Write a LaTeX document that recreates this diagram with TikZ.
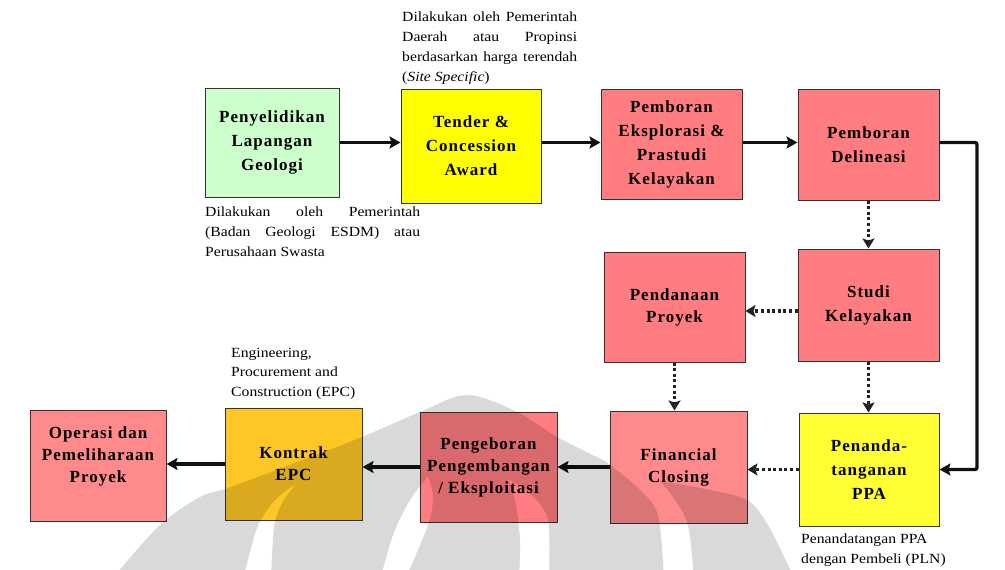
\documentclass[tikz,border=0pt]{standalone}
\usepackage{fontspec}
\setmainfont{Liberation Serif}
\newfontfamily\boxfont[LetterSpace=6]{Liberation Serif}
\newfontfamily\notefont[FakeStretch=1.12]{Liberation Serif}
\usetikzlibrary{arrows.meta}

\definecolor{geogreen}{HTML}{CCFFCC}
\definecolor{tenderyellow}{HTML}{FFFF00}
\definecolor{ppayellow}{HTML}{FFFF33}
\definecolor{salmon}{HTML}{FF7C80}
\definecolor{salmonlight}{HTML}{FF8A8C}
\definecolor{epcgold}{HTML}{FFC726}
\definecolor{edgecol}{HTML}{333333}
\definecolor{linkcol}{HTML}{111111}
\definecolor{dotcol}{HTML}{222222}

\tikzset{
  stagebox/.style={draw=edgecol, line width=1pt, inner sep=2pt, align=center,
    font=\boxfont\bfseries\fontsize{17}{24}\selectfont},
  lowbox/.style={stagebox, font=\boxfont\bfseries\fontsize{17}{22}\selectfont},
  note/.style={inner sep=0pt, anchor=north west, font=\notefont\fontsize{14}{20}\selectfont},
  flow/.style={draw=linkcol, line width=3.3pt, -{Stealth[length=11pt,width=12pt,inset=2pt]}},
  dotflow/.style={draw=dotcol, line width=3.5pt, dash pattern=on 3pt off 2.6pt,
    -{Stealth[length=10pt,width=12pt,inset=2pt]}}
}

\begin{document}
\begin{tikzpicture}[x=1pt,y=-1pt]
\useasboundingbox (0,0) rectangle (1005,570);
\fill[white] (0,0) rectangle (1005,570);

% upper row
\node[stagebox, fill=geogreen, minimum width=134pt, minimum height=109pt] (geo) at (272,142.5)
  {Penyelidikan\\Lapangan\\Geologi};
\node[stagebox, fill=tenderyellow, minimum width=140pt, minimum height=114pt] (tender) at (471,146)
  {Tender \&\\Concession\\Award};
\node[stagebox, fill=salmon, minimum width=141pt, minimum height=110pt] (eksplor) at (671.5,144)
  {Pemboran\\Eksplorasi \&\\Prastudi\\Kelayakan};
\node[stagebox, fill=salmon, minimum width=141pt, minimum height=111pt] (delin) at (868.5,144.5)
  {Pemboran\\Delineasi};

% middle row
\node[stagebox, fill=salmon, minimum width=141pt, minimum height=112pt] (studi) at (868.5,305)
  {Studi\\Kelayakan};
\node[lowbox, fill=salmon, minimum width=141pt, minimum height=110pt] (dana) at (674.5,307)
  {Pendanaan\\Proyek};

% lower row
\node[stagebox, fill=ppayellow, minimum width=140pt, minimum height=113pt] (ppa) at (869,469.5)
  {Penanda-\\tanganan\\PPA};
\node[lowbox, fill=salmonlight, minimum width=137pt, minimum height=112pt] (fin) at (678.5,467)
  {Financial\\Closing};
\node[lowbox, fill=salmon, minimum width=137pt, minimum height=110pt] (pengeb) at (488.5,467)
  {Pengeboran\\Pengembangan\\/ Eksploitasi};
\node[lowbox, fill=epcgold, minimum width=137pt, minimum height=112pt] (epc) at (293.5,464)
  {Kontrak\\EPC};
\node[lowbox, fill=salmonlight, minimum width=136pt, minimum height=111pt] (ops) at (98,465.5)
  {Operasi dan\\Pemeliharaan\\Proyek\\\mbox{}};

% annotations
\node[note, text width=175pt, align=justify] (noteTender) at (402,12)
  {\noindent Dilakukan oleh Pemerintah\linebreak Daerah atau Propinsi\linebreak berdasarkan harga terendah\linebreak (\textit{Site Specific})};
\node[note, text width=215pt, align=justify] (noteGeo) at (205,207)
  {\noindent Dilakukan oleh Pemerintah\linebreak (Badan Geologi ESDM) atau\linebreak Perusahaan Swasta};
\node[note, align=left, font=\notefont\fontsize{14}{19.5}\selectfont] (noteEpc) at (231,348)
  {Engineering,\\Procurement and\\Construction (EPC)};
\node[note, align=left] (notePpa) at (801,534)
  {Penandatangan PPA\\dengan Pembeli (PLN)};

% solid process flow
\coordinate (bend) at (977,142.5);
\draw[flow] (geo.east) -- (geo.east -| tender.west);
\draw[flow] (geo.east -| tender.east) -- (geo.east -| eksplor.west);
\draw[flow] (geo.east -| eksplor.east) -- (geo.east -| delin.west);
\draw[flow, rounded corners=2pt] (geo.east -| delin.east) -- (bend) |- (ppa.east);
\draw[flow] (fin.west) -- (fin.west -| pengeb.east);
\draw[flow] (pengeb.west) -- (pengeb.west -| epc.east);
\draw[flow] (epc.west) -- (epc.west -| ops.east);

% dotted dependencies
\draw[dotflow] (delin.south) -- (delin.south |- studi.north);
\draw[dotflow] ([yshift=-6pt]studi.west) -- ([yshift=-6pt]studi.west -| dana.east);
\draw[dotflow] (studi.south) -- (studi.south |- ppa.north);
\draw[dotflow] (dana.south) -- (dana.south |- fin.north);
\draw[dotflow] (ppa.west) -- (ppa.west -| fin.east);

% faint emblem in the lower half
\fill[black, fill opacity=0.15, even odd rule]
  (112,580)
  -- plot[smooth, tension=0.55] coordinates {(118,572) (160,525) (200,497) (228,488) (295,463) (362,437) (420,412) (467,395) (517,412) (557,437) (605,461)}
  -- plot[smooth, tension=0.5] coordinates {(605,461) (638,488) (658,515) (664,580)}
  -- plot[smooth, tension=0.5] coordinates {(694,580) (688,525) (673,497) (660,481)}
  -- plot[smooth, tension=0.5] coordinates {(660,481) (705,489) (747,500) (768,525) (795,580)}
  -- cycle
  (243,580) -- plot[smooth, tension=0.5] coordinates {(243,580) (257,528) (275,500) (296,484)}
  -- plot[smooth, tension=0.5] coordinates {(296,484) (282,503) (274,527) (271,580)} -- cycle
  (380,580) -- plot[smooth, tension=0.5] coordinates {(380,580) (393,535) (410,500) (428,476)}
  -- plot[smooth, tension=0.5] coordinates {(428,476) (433,497) (428,525) (405,580)} -- cycle
  (519,580) -- plot[smooth, tension=0.5] coordinates {(519,580) (520,540) (516,505) (509,480)}
  -- plot[smooth, tension=0.5] coordinates {(509,480) (530,493) (548,520) (549,580)} -- cycle;
\end{tikzpicture}
\end{document}
